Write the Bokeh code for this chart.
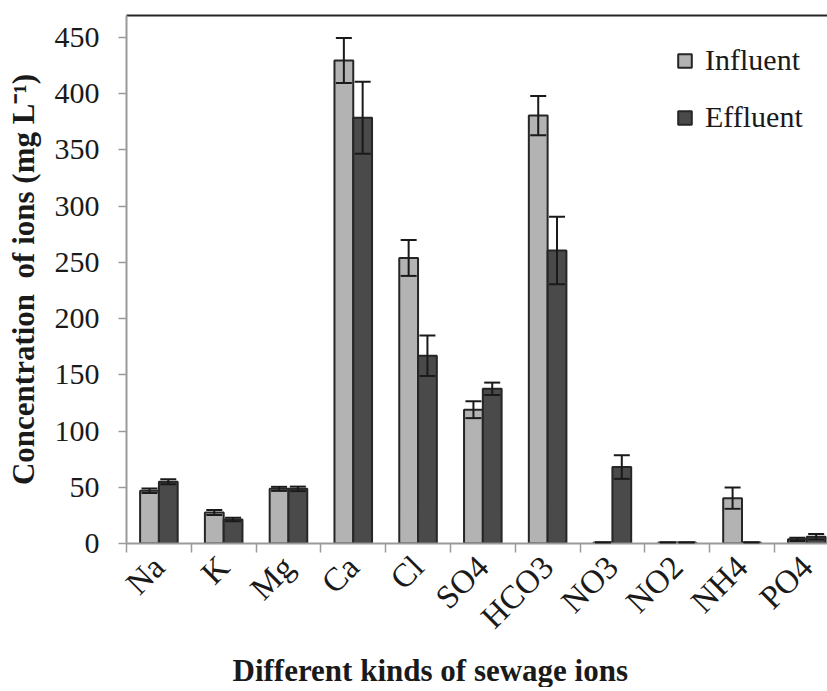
from bokeh.plotting import figure
from bokeh.models import (ColumnDataSource, Range1d, FixedTicker, LinearAxis, Whisker,
                          TeeHead, Legend, LegendItem, Title)
from bokeh.embed import file_html
from bokeh.resources import INLINE

# ---- data ----
ions = ["Na", "K", "Mg", "Ca", "Cl", "SO4", "HCO3", "NO3", "NO2", "NH4", "PO4"]
influent = [47.0, 27.6, 48.6, 429.5, 254.0, 119.0, 380.6, 0.9, 0.9, 40.3, 3.7]
influent_err = [2.0, 2.3, 1.8, 20.0, 16.0, 7.5, 17.5, 0.0, 0.0, 9.5, 1.5]
effluent = [55.0, 21.3, 48.6, 378.6, 167.0, 137.6, 260.6, 68.0, 0.9, 0.9, 6.0]
effluent_err = [2.2, 1.5, 2.0, 32.0, 18.0, 5.5, 30.0, 10.5, 0.0, 0.0, 2.5]
y_ticks = [0, 50, 100, 150, 200, 250, 300, 350, 400, 450]

# ---- styles ----
FONT = "Liberation Serif"
OFF = 0.145
BW = 0.29
IN_FILL = "#b3b3b3"
EF_FILL = "#4a4a4a"
EDGE = "#262626"
AXIS_GRAY = "#9a9a9a"

idx = list(range(len(ions)))
src_in = ColumnDataSource(dict(
    x=[i - OFF for i in idx], top=influent,
    upper=[v + e for v, e in zip(influent, influent_err)],
    lower=[v - e for v, e in zip(influent, influent_err)]))
src_ef = ColumnDataSource(dict(
    x=[i + OFF for i in idx], top=effluent,
    upper=[v + e for v, e in zip(effluent, effluent_err)],
    lower=[v - e for v, e in zip(effluent, effluent_err)]))

p = figure(frame_width=701, frame_height=528, output_backend="svg", toolbar_location=None,
           x_range=Range1d(-0.5, 10.32), y_range=Range1d(0, 469.6),
           min_border_left=126, min_border_right=0, min_border_top=15, min_border_bottom=140,
           background_fill_color="white", border_fill_color="white")
p.outline_line_color = None
p.xgrid.visible = False
p.ygrid.visible = False

r_in = p.vbar(x="x", top="top", width=BW, bottom=0, source=src_in,
              fill_color=IN_FILL, line_color=EDGE, line_width=2)
r_ef = p.vbar(x="x", top="top", width=BW, bottom=0, source=src_ef,
              fill_color=EF_FILL, line_color=EDGE, line_width=2)

for s in (src_in, src_ef):
    w = Whisker(base="x", upper="upper", lower="lower", source=s,
                line_color="#1a1a1a", line_width=2,
                upper_head=TeeHead(size=16, line_width=2, line_color="#1a1a1a"),
                lower_head=TeeHead(size=16, line_width=2, line_color="#1a1a1a"))
    w.level = "annotation"
    p.add_layout(w)

# x axis
xa = p.xaxis[0]
xa.ticker = FixedTicker(ticks=idx, minor_ticks=[i - 0.5 for i in range(len(ions) + 1)])
xa.major_label_overrides = {i: n for i, n in enumerate(ions)}
xa.major_label_orientation = 0.785398
xa.major_tick_out = 0
xa.major_tick_in = 0
xa.minor_tick_out = 9
xa.minor_tick_in = 0
xa.minor_tick_line_color = AXIS_GRAY
xa.minor_tick_line_width = 1.5
xa.axis_line_color = AXIS_GRAY
xa.axis_line_width = 2
xa.major_label_text_font = FONT
xa.major_label_text_font_size = "33px"
xa.major_label_text_color = "#1a1a1a"
xa.major_label_standoff = 9

# y axis
ya = p.yaxis[0]
ya.ticker = FixedTicker(ticks=y_ticks)
ya.major_tick_out = 8
ya.major_tick_in = 0
ya.minor_tick_out = 0
ya.minor_tick_in = 0
ya.major_tick_line_color = AXIS_GRAY
ya.major_tick_line_width = 1.5
ya.axis_line_color = AXIS_GRAY
ya.axis_line_width = 2
ya.major_label_text_font = FONT
ya.major_label_text_font_size = "30px"
ya.major_label_text_color = "#1a1a1a"
ya.major_label_standoff = 19
ya.axis_label = "Concentration\u00a0\u00a0of ions (mg L\u207b\u00b9)"
ya.axis_label_text_font = FONT
ya.axis_label_text_font_size = "31px"
ya.axis_label_text_font_style = "bold"
ya.axis_label_text_color = "#1a1a1a"
ya.axis_label_standoff = 11

# top border line
top = LinearAxis(ticker=FixedTicker(ticks=[]), axis_line_color=EDGE, axis_line_width=2,
                 major_tick_out=0, major_tick_in=0, minor_tick_out=0, minor_tick_in=0,
                 major_label_text_font_size="0px")
p.add_layout(top, "above")

# x axis title
p.add_layout(Title(text="Different kinds of sewage ions", align="left", offset=106,
                   text_font=FONT, text_font_size="31px", text_font_style="bold",
                   text_color="#1a1a1a", standoff=0), "below")

legend = Legend(items=[LegendItem(label="Influent", renderers=[r_in]),
                       LegendItem(label="Effluent", renderers=[r_ef])],
                location=(550, 409), padding=0, margin=0, spacing=23,
                glyph_width=17, glyph_height=17, label_standoff=12,
                label_text_font=FONT, label_text_font_size="30px", label_text_color="#1a1a1a",
                border_line_color=None, background_fill_alpha=0)
p.add_layout(legend)

open("out.html", "w").write(file_html(p, INLINE))
